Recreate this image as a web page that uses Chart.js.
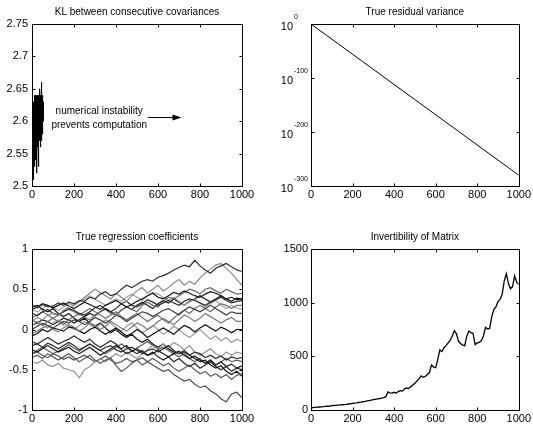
<!DOCTYPE html>
<html>
<head>
<meta charset="utf-8">
<script src="https://cdn.jsdelivr.net/npm/chart.js@4/dist/chart.umd.min.js"></script>
<style>
  body { margin: 0; background: #fff; width: 533px; height: 428px; overflow: hidden; position: relative; }
  canvas { position: absolute; }
</style>
</head>
<body>
<canvas id="kl" width="266" height="214" style="left:0;top:0"></canvas>
<canvas id="resid" width="267" height="214" style="left:266px;top:0"></canvas>
<canvas id="coef" width="266" height="203" style="left:0;top:225px"></canvas>
<canvas id="inv" width="267" height="203" style="left:266px;top:225px"></canvas>
<script>
// shared x ticks
const xTicks = [0, 200, 400, 600, 800, 1000];

// KL between consecutive covariances (only first ~55 steps computed)
const klX = [0,1,2,3,4,5,6,7,8,9,10,11,12,13,14,15,16,17,18,19,20,21,22,23,24,25,26,27,
  28,29,30,31,32,33,34,35,36,37,38,39,40,41,42,43,44,45,46,47,48,49,50,51,52,53,54,55];
const klValues = [2.60,2.55,2.63,2.52,2.62,2.51,2.60,2.54,2.63,2.56,2.61,2.53,2.64,2.57,2.62,2.55,
  2.63,2.58,2.64,2.54,2.62,2.57,2.64,2.52,2.63,2.58,2.61,2.56,2.64,2.59,2.62,2.53,2.64,2.58,2.63,
  2.60,2.62,2.57,2.65,2.59,2.63,2.56,2.64,2.58,2.66,2.60,2.65,2.57,2.63,2.60,2.64,2.58,2.62,2.60,2.63,2.61];
const klTicks = [2.5, 2.55, 2.6, 2.65, 2.7, 2.75];
const noteLines = ['numerical instability', 'prevents computation'];
const noteX = 320;
const noteY = [2.615, 2.593];
const arrowX = [552, 712];
const arrowY = 2.607;

// True residual variance (log scale)
const residX = [0, 250, 500, 750, 1000];
const residValues = [1e0, 1e-70, 1e-140, 1e-210, 1e-280];
const residTickExp = [0, -100, -200, -300];

// True regression coefficients
const coefX = [0,25,50,75,100,125,150,175,200,225,250,275,300,325,350,375,400,425,450,475,500,
  525,550,575,600,625,650,675,700,725,750,775,800,825,850,875,900,925,950,975,1000];
const coefSeries = [
  [0.30,0.27,0.31,0.28,0.29,0.33,0.30,0.34,0.32,0.36,0.35,0.40,0.38,0.44,0.47,0.42,0.44,0.50,0.55,0.52,0.56,0.60,0.62,0.60,0.65,0.67,0.70,0.74,0.77,0.80,0.78,0.86,0.79,0.74,0.70,0.76,0.79,0.82,0.78,0.74,0.72],
  [0.10,0.15,0.12,0.18,0.20,0.17,0.24,0.28,0.30,0.35,0.40,0.45,0.50,0.46,0.42,0.38,0.45,0.40,0.35,0.42,0.48,0.52,0.45,0.50,0.55,0.48,0.52,0.58,0.62,0.55,0.60,0.56,0.64,0.70,0.75,0.80,0.82,0.76,0.70,0.62,0.55],
  [0.25,0.28,0.32,0.30,0.27,0.30,0.33,0.29,0.26,0.30,0.34,0.31,0.28,0.25,0.30,0.33,0.36,0.32,0.28,0.31,0.35,0.38,0.42,0.45,0.40,0.38,0.42,0.46,0.44,0.48,0.45,0.42,0.40,0.44,0.47,0.45,0.42,0.38,0.40,0.37,0.38],
  [0.20,0.17,0.22,0.25,0.20,0.18,0.22,0.26,0.24,0.20,0.18,0.22,0.27,0.30,0.25,0.22,0.26,0.32,0.35,0.30,0.28,0.32,0.37,0.34,0.30,0.33,0.36,0.33,0.30,0.35,0.38,0.36,0.33,0.30,0.34,0.37,0.40,0.36,0.33,0.35,0.36],
  [0.12,0.08,0.05,0.10,0.14,0.10,0.06,0.12,0.16,0.20,0.15,0.12,0.18,0.22,0.25,0.20,0.18,0.24,0.28,0.25,0.22,0.30,0.34,0.30,0.28,0.35,0.40,0.38,0.42,0.46,0.50,0.48,0.44,0.50,0.52,0.48,0.45,0.50,0.47,0.44,0.45],
  [0.00,0.04,0.08,0.05,0.02,0.06,0.10,0.08,0.12,0.10,0.06,0.10,0.15,0.12,0.08,0.12,0.18,0.15,0.10,0.14,0.18,0.22,0.20,0.16,0.20,0.24,0.26,0.22,0.18,0.24,0.28,0.25,0.22,0.26,0.30,0.26,0.22,0.18,0.22,0.20,0.20],
  [-0.05,-0.02,0.02,0.05,0.00,-0.03,0.02,0.06,0.03,-0.02,0.02,0.08,0.05,0.00,0.04,0.10,0.06,0.02,-0.02,0.03,0.08,0.05,0.00,0.04,0.10,0.14,0.10,0.06,0.12,0.18,0.15,0.10,0.14,0.20,0.16,0.12,0.08,0.12,0.15,0.10,0.10],
  [-0.08,-0.05,0.00,-0.03,0.02,0.00,-0.02,0.03,0.02,-0.02,-0.05,0.00,0.03,-0.02,-0.06,-0.02,0.02,-0.03,-0.08,-0.05,0.00,-0.04,-0.10,-0.06,-0.02,0.02,-0.02,-0.06,0.00,0.05,0.02,-0.03,0.02,0.06,0.02,-0.02,0.03,0.00,-0.04,0.00,0.00],
  [0.05,0.10,0.06,0.02,0.08,0.12,0.08,0.04,0.00,0.05,0.10,0.06,0.02,0.06,0.12,0.08,0.02,-0.02,0.04,0.08,0.02,-0.04,0.00,0.05,0.00,-0.06,-0.02,0.04,0.00,-0.06,-0.10,-0.05,0.00,-0.06,-0.12,-0.08,-0.14,-0.10,-0.16,-0.12,-0.15],
  [-0.20,-0.18,-0.22,-0.17,-0.20,-0.24,-0.20,-0.16,-0.20,-0.25,-0.22,-0.18,-0.22,-0.26,-0.22,-0.20,-0.25,-0.28,-0.24,-0.22,-0.26,-0.30,-0.26,-0.24,-0.28,-0.24,-0.20,-0.26,-0.30,-0.28,-0.32,-0.28,-0.30,-0.35,-0.32,-0.36,-0.33,-0.38,-0.34,-0.36,-0.35],
  [-0.25,-0.28,-0.24,-0.20,-0.24,-0.28,-0.25,-0.22,-0.27,-0.30,-0.26,-0.22,-0.27,-0.32,-0.28,-0.24,-0.20,-0.25,-0.30,-0.27,-0.24,-0.28,-0.32,-0.30,-0.26,-0.30,-0.34,-0.30,-0.27,-0.32,-0.36,-0.33,-0.38,-0.42,-0.38,-0.44,-0.40,-0.46,-0.43,-0.48,-0.45],
  [-0.35,-0.32,-0.36,-0.30,-0.34,-0.38,-0.34,-0.30,-0.35,-0.40,-0.36,-0.32,-0.38,-0.42,-0.38,-0.35,-0.45,-0.52,-0.48,-0.42,-0.38,-0.44,-0.40,-0.36,-0.40,-0.45,-0.42,-0.48,-0.52,-0.48,-0.44,-0.50,-0.55,-0.52,-0.58,-0.55,-0.60,-0.56,-0.62,-0.57,-0.55],
  [-0.40,-0.42,-0.38,-0.44,-0.46,-0.42,-0.48,-0.50,-0.52,-0.60,-0.50,-0.46,-0.40,-0.36,-0.40,-0.35,-0.30,-0.34,-0.28,-0.32,-0.36,-0.30,-0.25,-0.20,-0.24,-0.18,-0.22,-0.16,-0.20,-0.25,-0.20,-0.28,-0.32,-0.28,-0.24,-0.30,-0.34,-0.28,-0.32,-0.28,-0.30],
  [-0.30,-0.28,-0.32,-0.35,-0.30,-0.33,-0.37,-0.34,-0.38,-0.35,-0.32,-0.36,-0.40,-0.37,-0.33,-0.38,-0.42,-0.40,-0.36,-0.40,-0.38,-0.35,-0.40,-0.44,-0.48,-0.52,-0.50,-0.56,-0.60,-0.64,-0.62,-0.68,-0.72,-0.70,-0.76,-0.80,-0.86,-0.90,-0.80,-0.78,-0.85],
  [0.28,0.30,0.25,0.22,0.26,0.20,0.16,0.20,0.14,0.10,0.14,0.08,0.04,0.08,0.02,-0.04,0.00,-0.06,-0.10,-0.06,-0.12,-0.16,-0.12,-0.18,-0.22,-0.18,-0.24,-0.28,-0.30,-0.26,-0.32,-0.36,-0.40,-0.38,-0.44,-0.48,-0.45,-0.52,-0.56,-0.52,-0.58],
  [0.15,0.18,0.22,0.18,0.14,0.18,0.22,0.25,0.22,0.18,0.22,0.26,0.22,0.18,0.14,0.18,0.22,0.16,0.12,0.16,0.20,0.15,0.10,0.14,0.18,0.12,0.08,0.14,0.20,0.24,0.20,0.26,0.30,0.26,0.22,0.28,0.32,0.30,0.26,0.30,0.30],
  [-0.15,-0.18,-0.14,-0.10,-0.14,-0.18,-0.15,-0.12,-0.08,-0.12,-0.16,-0.12,-0.18,-0.22,-0.18,-0.14,-0.18,-0.24,-0.20,-0.26,-0.30,-0.26,-0.32,-0.28,-0.34,-0.38,-0.34,-0.40,-0.36,-0.42,-0.46,-0.42,-0.48,-0.44,-0.40,-0.46,-0.50,-0.46,-0.52,-0.48,-0.50],
  [0.25,0.22,0.26,0.30,0.27,0.24,0.28,0.32,0.30,0.34,0.38,0.42,0.38,0.34,0.30,0.34,0.38,0.35,0.40,0.44,0.40,0.36,0.42,0.46,0.44,0.40,0.36,0.40,0.35,0.30,0.34,0.38,0.33,0.28,0.32,0.36,0.30,0.26,0.30,0.27,0.25],
  [-0.30,-0.26,-0.22,-0.26,-0.30,-0.27,-0.23,-0.19,-0.23,-0.27,-0.22,-0.18,-0.22,-0.26,-0.30,-0.26,-0.22,-0.18,-0.22,-0.27,-0.23,-0.19,-0.15,-0.20,-0.25,-0.22,-0.26,-0.30,-0.34,-0.30,-0.36,-0.40,-0.36,-0.42,-0.38,-0.44,-0.40,-0.36,-0.40,-0.38,-0.40],
  [0.05,0.08,0.12,0.10,0.06,0.10,0.14,0.12,0.08,0.12,0.16,0.20,0.17,0.22,0.26,0.22,0.18,0.24,0.28,0.25,0.30,0.34,0.30,0.26,0.32,0.36,0.33,0.38,0.34,0.30,0.35,0.38,0.42,0.38,0.34,0.38,0.42,0.38,0.35,0.39,0.38]
];
const coefColors = ['#2e2e2e','#8a8a8a','#151515','#2a2a2a','#6a6a6a','#3a3a3a','#7a7a7a','#0c0c0c','#9a9a9a','#2a2a2a',
  '#1a1a1a','#5a5a5a','#929292','#4a4a4a','#101010','#6e6e6e','#262626','#a2a2a2','#5a5a5a','#181818'];
const coefTicks = [-1, -0.5, 0, 0.5, 1];

// Invertibility of matrix
const invX = [0,10,20,30,40,50,60,70,80,90,100,110,120,130,140,150,160,170,180,190,
  200,210,220,230,240,250,260,270,280,290,300,310,320,330,340,350,360,370,380,390,
  400,410,420,430,440,450,460,470,480,490,500,510,520,530,540,550,560,570,580,590,
  600,610,620,630,640,650,660,670,680,690,700,710,720,730,740,750,760,770,780,790,
  800,810,820,830,840,850,860,870,880,890,900,910,920,930,940,950,960,970,980,990,1000];
const invValues = [20,22,24,26,28,30,31,33,35,37,40,42,44,46,47,49,51,53,56,58,
  61,64,66,70,73,77,80,84,88,92,96,100,104,107,110,115,122,168,160,158,
  165,158,172,180,176,198,205,200,218,232,250,270,290,318,305,312,330,349,420,400,
  395,470,560,545,580,600,625,650,690,740,710,640,620,605,600,690,735,720,715,610,
  625,630,645,690,770,755,760,870,935,960,1010,1030,1075,1200,1270,1180,1130,1150,1250,1190,1170];
const invTicks = [0, 500, 1000, 1500];

const FAMILY = '"Liberation Sans", Arial, Helvetica, sans-serif';
const FONT = { family: FAMILY, size: 11, weight: 'normal' };
const fmt = v => String(+Number(v).toFixed(2));

// MATLAB-like box with inward tick marks on all four sides, plus centred title
const boxTicks = {
  id: 'boxTicks',
  afterDraw(chart) {
    const { ctx, chartArea: a, scales: { x, y } } = chart;
    const L = Math.round(a.left) + 0.5, R = Math.round(a.right) + 0.5;
    const T = Math.round(a.top) + 0.5, B = Math.round(a.bottom) + 0.5;
    ctx.save();
    ctx.strokeStyle = '#000';
    ctx.lineWidth = 1;
    ctx.strokeRect(L, T, R - L, B - T);
    ctx.beginPath();
    x.ticks.forEach(t => {
      const p = Math.round(x.getPixelForValue(t.value)) + 0.5;
      ctx.moveTo(p, T); ctx.lineTo(p, T + 3);
      ctx.moveTo(p, B); ctx.lineTo(p, B - 3);
    });
    y.ticks.forEach(t => {
      const p = Math.round(y.getPixelForValue(t.value)) + 0.5;
      ctx.moveTo(L, p); ctx.lineTo(L + 3, p);
      ctx.moveTo(R, p); ctx.lineTo(R - 3, p);
    });
    ctx.stroke();
    const title = chart.options.plugins.boxTicks.title;
    ctx.fillStyle = '#000';
    ctx.font = '10px ' + FAMILY;
    ctx.textAlign = 'center';
    ctx.textBaseline = 'middle';
    ctx.fillText(title, (a.left + a.right) / 2, a.top - 12);
    ctx.restore();
  }
};

function xScale(h) {
  return {
    type: 'linear', min: 0, max: 1000,
    afterBuildTicks: s => { s.ticks = xTicks.map(v => ({ value: v })); },
    afterFit: s => { s.height = h; },
    grid: { display: false, drawTicks: false },
    border: { display: false },
    ticks: { color: '#000', font: FONT, padding: 2, maxRotation: 0, autoSkip: false, callback: v => String(v) }
  };
}

function yScale(min, max, tickVals, w, pad) {
  return {
    type: 'linear', min, max,
    afterBuildTicks: s => { s.ticks = tickVals.map(v => ({ value: v })); },
    afterFit: s => { s.width = w; },
    grid: { display: false, drawTicks: false },
    border: { display: false },
    ticks: { color: '#000', font: FONT, padding: pad, autoSkip: false, callback: fmt }
  };
}

function makeChart(id, datasets, scales, title, padRight, lineWidth, plugins) {
  return new Chart(document.getElementById(id), {
    type: 'line',
    data: { datasets },
    options: {
      responsive: false,
      animation: false,
      layout: { padding: { left: 0, right: padRight, top: 24, bottom: 0 } },
      elements: { point: { radius: 0 }, line: { borderWidth: lineWidth, tension: 0 } },
      scales,
      plugins: {
        legend: { display: false },
        tooltip: { enabled: false },
        title: { display: false },
        boxTicks: { title }
      }
    },
    plugins: [boxTicks].concat(plugins || [])
  });
}

// annotation in the KL panel
const klNote = {
  id: 'klNote',
  afterDraw(chart) {
    const { ctx, scales: { x, y } } = chart;
    ctx.save();
    ctx.fillStyle = '#000';
    ctx.strokeStyle = '#000';
    ctx.font = '10px ' + FAMILY;
    ctx.textAlign = 'center';
    ctx.textBaseline = 'middle';
    noteLines.forEach((t, i) => ctx.fillText(t, x.getPixelForValue(noteX), y.getPixelForValue(noteY[i])));
    const x0 = x.getPixelForValue(arrowX[0]), x1 = x.getPixelForValue(arrowX[1]);
    const ay = Math.round(y.getPixelForValue(arrowY)) + 0.5;
    ctx.lineWidth = 1;
    ctx.beginPath(); ctx.moveTo(x0, ay); ctx.lineTo(x1 - 6, ay); ctx.stroke();
    ctx.beginPath(); ctx.moveTo(x1, ay); ctx.lineTo(x1 - 9, ay - 3); ctx.lineTo(x1 - 9, ay + 3); ctx.closePath(); ctx.fill();
    ctx.restore();
  }
};

// 10^n labels for the log axis
const powerLabels = {
  id: 'powerLabels',
  afterDraw(chart) {
    const { ctx, chartArea: a, scales: { y } } = chart;
    ctx.save();
    ctx.fillStyle = '#000';
    ctx.textBaseline = 'middle';
    residTickExp.forEach(e => {
      const p = y.getPixelForValue(Math.pow(10, e));
      ctx.font = '11px ' + FAMILY;
      ctx.textAlign = 'right';
      ctx.fillText('10', a.left - 18, p + 3);
      ctx.font = '7px ' + FAMILY;
      ctx.textAlign = 'left';
      ctx.fillText(String(e), a.left - 17, p - 7);
    });
    ctx.restore();
  }
};

const pts = (xs, ys) => ys.map((v, i) => ({ x: xs[i], y: v }));

makeChart('kl',
  [{ data: pts(klX, klValues), borderColor: '#000' }],
  { x: xScale(28), y: yScale(2.5, 2.75, klTicks, 32, 4) },
  'KL between consecutive covariances', 24, 1, [klNote]);

makeChart('resid',
  [{ data: pts(residX, residValues), borderColor: '#000' }],
  {
    x: xScale(28),
    y: {
      type: 'logarithmic', min: 1e-300, max: 1,
      afterBuildTicks: s => { s.ticks = residTickExp.map(e => ({ value: Math.pow(10, e) })); },
      afterFit: s => { s.width = 45; },
      grid: { display: false, drawTicks: false },
      border: { display: false },
      ticks: { display: false }
    }
  },
  'True residual variance', 11, 1, [powerLabels]);

makeChart('coef',
  coefSeries.map((s, i) => ({ data: pts(coefX, s), borderColor: coefColors[i] })),
  { x: xScale(18), y: yScale(-1, 1, coefTicks, 32, 4) },
  'True regression coefficients', 24, 1.2);

const invY = yScale(0, 1500, invTicks, 45, 3);
invY.ticks.callback = v => String(v);
makeChart('inv',
  [{ data: pts(invX, invValues), borderColor: '#000' }],
  { x: xScale(18), y: invY },
  'Invertibility of Matrix', 11, 1.3);
</script>
</body>
</html>
